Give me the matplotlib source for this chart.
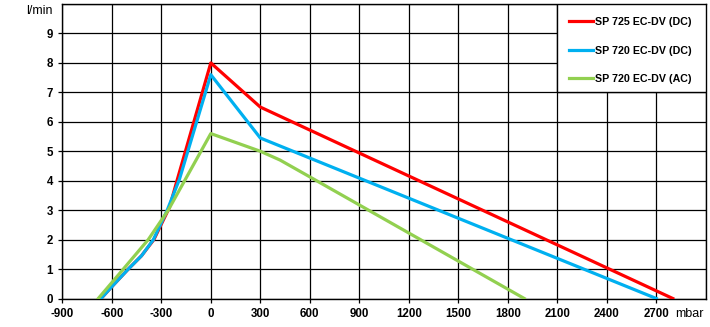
import matplotlib
matplotlib.use("Agg")
import matplotlib.pyplot as plt
from matplotlib.patches import Rectangle

plt.rcParams['font.family'] = ['Liberation Sans', 'DejaVu Sans']

# Pressure (mbar) vs. flow (l/min) for each pump model
series_names = ["SP 725 EC-DV (DC)", "SP 720 EC-DV (DC)", "SP 720 EC-DV (AC)"]

sp725_dc_mbar = [-665, -600, -500, -420, -345, -250, -205, 0, 300, 2800]
sp725_dc_flow = [0.0, 0.4, 1.0, 1.45, 2.0, 3.1, 4.0, 8.0, 6.5, 0.0]

sp720_dc_mbar = [-665, -600, -500, -420, -348, -264, -190, 0, 300, 2700]
sp720_dc_flow = [0.0, 0.4, 1.0, 1.45, 2.0, 3.0, 4.05, 7.6, 5.45, 0.0]

sp720_ac_mbar = [-682, -530, -379, -258, 0, 300, 420, 600, 1900]
sp720_ac_flow = [0.0, 1.0, 2.0, 3.0, 5.6, 5.0, 4.7, 4.13, 0.0]

x_ticks = [-900, -600, -300, 0, 300, 600, 900, 1200, 1500, 1800, 2100, 2400, 2700]
y_ticks = [0, 1, 2, 3, 4, 5, 6, 7, 8, 9]

colors = ["#FF0000", "#00B0F0", "#92D050"]

fig = plt.figure(figsize=(7.1, 3.27), dpi=100)
ax = fig.add_axes([62.3 / 710, 28.5 / 327, (705.8 - 62.3) / 710, (298.5 - 4) / 327])

ax.set_xlim(-900, 3000)
ax.set_ylim(0, 10)

# grid
for x in x_ticks + [3000]:
    ax.axvline(x, color="black", lw=0.9, zorder=1)
for y in y_ticks + [10]:
    ax.axhline(y, color="black", lw=0.9, zorder=1)

lw = 2.3
ax.plot(sp725_dc_mbar, sp725_dc_flow, color=colors[0], lw=lw, label=series_names[0],
        zorder=3, solid_joinstyle="round")
ax.plot(sp720_dc_mbar, sp720_dc_flow, color=colors[1], lw=lw, label=series_names[1],
        zorder=4, solid_joinstyle="round")
ax.plot(sp720_ac_mbar, sp720_ac_flow, color=colors[2], lw=lw, label=series_names[2],
        zorder=5, solid_joinstyle="round")

for s in ax.spines.values():
    s.set_color("black")
    s.set_linewidth(1.0)

ax.set_xticks(x_ticks)
ax.set_yticks(y_ticks)
ax.set_xticklabels([str(v) for v in x_ticks], fontsize=8.3, fontweight="bold")
ax.set_yticklabels([str(v) for v in y_ticks], fontsize=8.3, fontweight="bold")
ax.tick_params(axis="both", direction="out", length=3, width=0.9, color="black")
ax.tick_params(axis="x", pad=4.0)
ax.tick_params(axis="y", pad=3.8)

# legend box covering the upper-right grid cell
box = Rectangle((2100, 7), 900, 3, facecolor="white", edgecolor="black", lw=1.0, zorder=6)
ax.add_patch(box)
leg = ax.legend(loc="center left", bbox_to_anchor=(2171, 8.42), bbox_transform=ax.transData,
                frameon=False, prop={"size": 7.7, "weight": "bold"},
                handlelength=2.25, handletextpad=0.15, labelspacing=1.72, borderpad=0,
                borderaxespad=0)
leg.set_zorder(7)

fig.text(53 / 710, 1 - 11 / 327, "l/min", ha="right", va="center", fontsize=9)
fig.text(675 / 710, 1 - 317 / 327, "mbar", ha="left", va="baseline", fontsize=9)

fig.savefig("out.png", dpi=100)
